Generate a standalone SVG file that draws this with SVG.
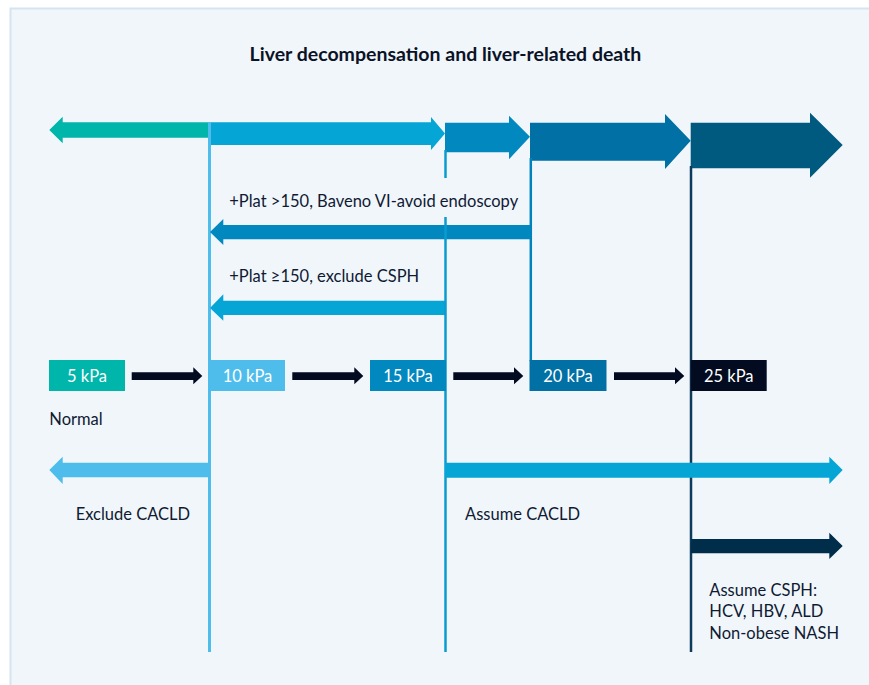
<svg xmlns="http://www.w3.org/2000/svg" width="869" height="685" viewBox="0 0 869 685">
  <style>
    .lbl { font-family: Lato, "Noto Sans", "Liberation Sans", sans-serif; font-size: 16.5px; fill: #0f1a33; }
    .box-t { font-family: Lato, "Noto Sans", "Liberation Sans", sans-serif; font-size: 16.5px; fill: #ffffff; text-anchor: middle; }
    .title { font-family: Lato, "Noto Sans", "Liberation Sans", sans-serif; font-size: 19.5px; font-weight: bold; fill: #0a1226; text-anchor: middle; }
    .step { fill: #020b20; }
  </style>

  <!-- page and panel -->
  <rect x="0" y="0" width="869" height="685" fill="#ffffff"/>
  <rect x="10.5" y="8.5" width="870" height="690" fill="#f1f6fb" stroke="#d6e4f0" stroke-width="2"/>

  <text class="title" x="445.5" y="61">Liver decompensation and liver-related death</text>

  <!-- top band: risk gradient arrows -->
  <g id="risk-band">
    <polygon points="209,122.3 209,137.7 62.7,137.7 62.7,143.3 49.3,130 62.7,116.7 62.7,122.3" fill="#00b5aa"/>
    <polygon points="209,122.3 431,122.3 431,117 445,133.5 431,150 431,145 209,145" fill="#05a5d6"/>
    <polygon points="445,122.7 509,122.7 509,115.7 530,136.7 509,159.3 509,152.3 445,152.3" fill="#0088bf"/>
    <polygon points="530,122.7 665,122.7 665,114 690.7,140.7 665,169 665,160.7 530,160.7" fill="#0070a5"/>
    <polygon points="690.7,122.7 810,122.7 810,112.7 842.7,145 810,177.7 810,168.3 690.7,168.3" fill="#005a80"/>
  </g>

  <!-- threshold connectors -->
  <g id="connectors">
    <line x1="209.5" y1="122" x2="209.5" y2="652" stroke="#4fbdec" stroke-width="3"/>
    <line x1="445.5" y1="150" x2="445.5" y2="178" stroke="#0a9bd0" stroke-width="2.5"/>
    <line x1="530.8" y1="158" x2="530.8" y2="361" stroke="#0083bb" stroke-width="2.5"/>
    <line x1="691" y1="166" x2="691" y2="652" stroke="#0d3b5c" stroke-width="2.5"/>

    <!-- platelet rules -->
    <polygon points="530,225 223.3,225 223.3,219 210,232 223.3,245 223.3,239.3 530,239.3" fill="#0088bf"/>
    <polygon points="446,300.7 223.3,300.7 223.3,294.3 210,308 223.3,320.7 223.3,315 446,315" fill="#05a5d6"/>
    <line x1="445.5" y1="217" x2="445.5" y2="652" stroke="#0a9bd0" stroke-width="2.5"/>

    <!-- stiffness steps -->
    <polygon class="step" points="131.7,372.3 193.3,372.3 193.3,367.3 202.3,376 193.3,384.3 193.3,380 131.7,380"/>
    <polygon class="step" points="292.3,372.3 354.3,372.3 354.3,367.3 363.3,376 354.3,384.3 354.3,380 292.3,380"/>
    <polygon class="step" points="453.3,372.3 514,372.3 514,367.3 523.3,376 514,384.3 514,380 453.3,380"/>
    <polygon class="step" points="614,372.3 675,372.3 675,367.3 684.3,376 675,384.3 675,380 614,380"/>

    <!-- CACLD / CSPH conclusions -->
    <polygon points="209,462.7 62.7,462.7 62.7,456.7 49.3,470 62.7,484 62.7,477.3 209,477.3" fill="#4fbdec"/>
    <polygon points="445,462.7 829.3,462.7 829.3,456.7 842.7,470 829.3,484 829.3,477.7 445,477.7" fill="#05a5d6"/>
    <polygon points="691,539 829.3,539 829.3,532.7 842.7,546 829.3,559 829.3,553.3 691,553.3" fill="#002d4a"/>
  </g>

  <text class="lbl" x="229.3" y="207">+Plat &gt;150, Baveno VI-avoid endoscopy</text>
  <text class="lbl" x="229.3" y="282">+Plat ≥150, exclude CSPH</text>

  <g id="kpa5">
    <rect x="49" y="360" width="76" height="31" fill="#00b5aa"/>
    <text class="box-t" x="87" y="382">5 kPa</text>
  </g>
  <g id="kpa10">
    <rect x="210" y="360" width="75" height="31" fill="#4fbdec"/>
    <text class="box-t" x="247.5" y="382">10 kPa</text>
  </g>
  <g id="kpa15">
    <rect x="370" y="360" width="76" height="31" fill="#0088bf"/>
    <text class="box-t" x="408" y="382">15 kPa</text>
  </g>
  <g id="kpa20">
    <rect x="529.5" y="360" width="77" height="31" fill="#0070a5"/>
    <text class="box-t" x="568" y="382">20 kPa</text>
  </g>
  <g id="kpa25">
    <rect x="690.7" y="360" width="76" height="31" fill="#020b20"/>
    <text class="box-t" x="728.7" y="382">25 kPa</text>
  </g>

  <text class="lbl" x="49.3" y="425">Normal</text>
  <text class="lbl" x="75.7" y="520">Exclude CACLD</text>
  <text class="lbl" x="465" y="520">Assume CACLD</text>
  <text class="lbl" x="709.3" y="596">Assume CSPH:</text>
  <text class="lbl" x="709.3" y="617">HCV, HBV, ALD</text>
  <text class="lbl" x="709.3" y="638.5">Non-obese NASH</text>
</svg>
